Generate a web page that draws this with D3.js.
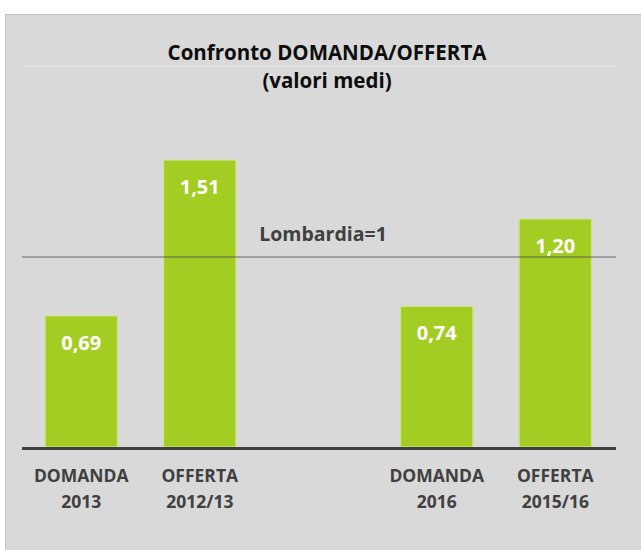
<!DOCTYPE html>
<html>
<head>
<meta charset="utf-8">
<script src="https://cdn.jsdelivr.net/npm/d3@7"></script>
<style>
  body { margin: 0; background: #fff; }
  text { font-family: "Open Sans", "DejaVu Sans", sans-serif; font-weight: bold; }
</style>
</head>
<body>
<div id="chart"></div>
<script>
// slot "" is the empty gap between the two comparisons
const categories = ["DOMANDA 2013", "OFFERTA 2012/13", "", "DOMANDA 2016", "OFFERTA 2015/16"];
const barCategories = ["DOMANDA 2013", "OFFERTA 2012/13", "DOMANDA 2016", "OFFERTA 2015/16"];
const values = [0.69, 1.51, 0.74, 1.20];
const referenceValue = 1;
const referenceLabel = "Lombardia=1";
const titleLines = ["Confronto DOMANDA/OFFERTA", "(valori medi)"];

const width = 641;
const height = 550;

const svg = d3.select("#chart").append("svg")
    .attr("width", width)
    .attr("height", height);

// chart area background
svg.append("rect")
    .attr("x", 5.5).attr("y", 14.5)
    .attr("width", width).attr("height", height)
    .attr("fill", "#d9d9d9")
    .attr("stroke", "#c3c3c3");

const x = d3.scaleBand()
    .domain(categories)
    .range([22, 614.5])
    .paddingInner(0.39)
    .paddingOuter(0.195);

const y = d3.scaleLinear()
    .domain([0, 1])
    .range([447, 257]);

const it = d3.formatLocale({decimal: ",", thousands: ".", grouping: [3], currency: ["", "€"]});
const fmt = it.format(".2f");

// title
svg.append("line")
    .attr("x1", 22).attr("x2", 616)
    .attr("y1", 66.5).attr("y2", 66.5)
    .attr("stroke", "#e4e4e4");

svg.selectAll(".title")
    .data(titleLines)
    .enter().append("text")
    .attr("class", "title")
    .attr("x", 327)
    .attr("y", (d, i) => 60 + i * 28)
    .attr("text-anchor", "middle")
    .attr("font-size", 20.5)
    .attr("fill", "#0d0d0d")
    .text(d => d);

// bars
const data = barCategories.map((c, i) => ({category: c, value: values[i]}));

svg.selectAll(".bar")
    .data(data)
    .enter().append("rect")
    .attr("class", "bar")
    .attr("x", d => x(d.category))
    .attr("y", d => y(d.value))
    .attr("width", x.bandwidth())
    .attr("height", d => y(0) - y(d.value))
    .attr("fill", "#a3cd22")
    .attr("stroke", "#d2e68c")
    .attr("stroke-width", 1);

// reference line
svg.append("line")
    .attr("x1", 22).attr("x2", 616)
    .attr("y1", y(referenceValue)).attr("y2", y(referenceValue))
    .attr("stroke", "#595959")
    .attr("stroke-opacity", 0.6)
    .attr("stroke-width", 1.5);

svg.append("text")
    .attr("x", 323)
    .attr("y", y(referenceValue) - 16)
    .attr("text-anchor", "middle")
    .attr("font-size", 19.5)
    .attr("fill", "#404040")
    .text(referenceLabel);

// value labels
svg.selectAll(".value")
    .data(data)
    .enter().append("text")
    .attr("class", "value")
    .attr("x", d => x(d.category) + x.bandwidth() / 2)
    .attr("y", d => y(d.value) + 34)
    .attr("text-anchor", "middle")
    .attr("font-size", 20)
    .attr("fill", "#fff")
    .text(d => fmt(d.value));

// x axis
const axis = svg.append("g")
    .attr("transform", `translate(0,${y(0)})`)
    .call(d3.axisBottom(x).tickSize(0).tickSizeOuter(0));

axis.select(".domain")
    .attr("stroke", "#404040")
    .attr("stroke-width", 3)
    .attr("d", "M22,1.5H616");

axis.selectAll(".tick text")
    .attr("font-size", 17.5)
    .attr("font-family", null)
    .attr("fill", "#404040")
    .attr("y", 0)
    .attr("dy", null)
    .text(null)
    .each(function(d) {
        if (!d) return;
        d3.select(this).selectAll("tspan")
            .data(d.split(" "))
            .enter().append("tspan")
            .attr("x", 0)
            .attr("y", (p, i) => 35 + i * 26)
            .text(p => p);
    });
</script>
</body>
</html>
